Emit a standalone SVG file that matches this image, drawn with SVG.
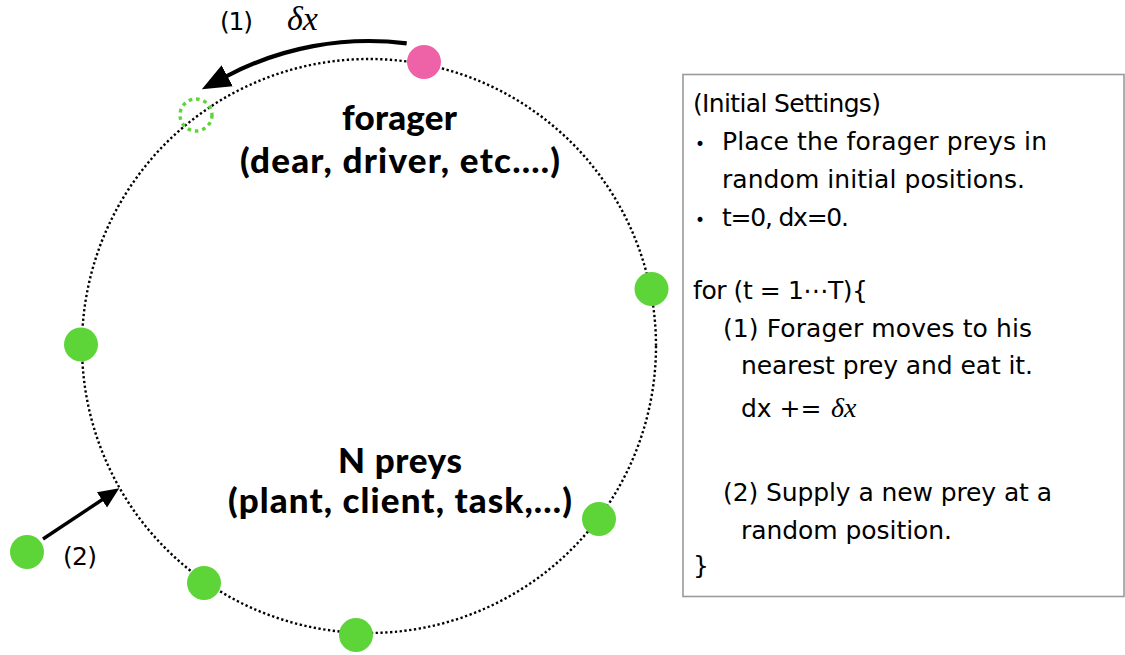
<svg xmlns="http://www.w3.org/2000/svg" width="1125" height="655" viewBox="0 0 1125 655">
<style>
.ring{fill:none;stroke:#000;stroke-width:2.4;stroke-dasharray:2.3 2.5}
.prey{fill:#5dd539}
.forager{fill:#ee63a7}
.ghost{fill:none;stroke:#5dd539;stroke-width:3.4;stroke-dasharray:3.6 3.9}
.lbl{font-family:"DejaVu Sans","Noto Sans",sans-serif;font-size:25px;fill:#000}
.big{font-family:Lato,"Liberation Sans",sans-serif;font-weight:900;font-size:35px;fill:#000}
.panel{font-family:"DejaVu Sans","Noto Sans",sans-serif;font-size:25px;fill:#000}
.bul{font-family:"DejaVu Sans",sans-serif;font-size:17px;fill:#000}
.math{font-family:"Liberation Serif","DejaVu Serif",serif;font-style:italic;fill:#000}
.arrow{fill:none;stroke:#000}
</style>
<defs>
<marker id="headBig" markerUnits="userSpaceOnUse" markerWidth="30" markerHeight="30" viewBox="0 -11 24 22" refX="2" refY="0" orient="auto">
<path d="M0,-9.5 L23,0 L0,9.5 z" fill="#000"/>
</marker>
<marker id="headSmall" markerUnits="userSpaceOnUse" markerWidth="22" markerHeight="22" viewBox="0 -9 18 18" refX="2" refY="0" orient="auto">
<path d="M0,-7.5 L17,0 L0,7.5 z" fill="#000"/>
</marker>
</defs>
<rect width="1125" height="655" fill="#fff"/>
<g id="ring">
<circle class="ring" cx="369" cy="346" r="287"/>
</g>
<g id="connectors">
<path class="arrow" stroke-width="4.2" d="M406.7,43.4 A305,305 0 0 0 225,77" marker-end="url(#headBig)"/>
<path class="arrow" stroke-width="3.4" d="M43,539 L104,498.5" marker-end="url(#headSmall)"/>
</g>
<g id="forager-node">
<circle class="forager" cx="424" cy="62" r="17"/>
</g>
<g id="forager-old-position">
<circle class="ghost" cx="196" cy="115" r="16"/>
</g>
<g id="prey-1"><circle class="prey" cx="651.5" cy="289" r="17"/></g>
<g id="prey-2"><circle class="prey" cx="81" cy="344.5" r="17"/></g>
<g id="prey-3"><circle class="prey" cx="599" cy="519" r="17"/></g>
<g id="prey-4"><circle class="prey" cx="204" cy="583" r="17"/></g>
<g id="prey-5"><circle class="prey" cx="356" cy="635" r="17"/></g>
<g id="prey-new"><circle class="prey" cx="27" cy="552" r="17"/></g>
<g id="labels">
<text class="lbl" x="220" y="30" textLength="33">(1)</text>
<text class="math" x="287" y="30" font-size="34">δx</text>
<text class="lbl" x="63" y="565" textLength="34">(2)</text>
<text class="big" x="342" y="130" textLength="115">forager</text>
<text class="big" x="240" y="173" textLength="320">(dear, driver, etc.…)</text>
<text class="big" x="338" y="473" textLength="124">N preys</text>
<text class="big" x="228" y="513" textLength="344">(plant, client, task,…)</text>
</g>
<g id="panel">
<rect x="683" y="74.5" width="441" height="522" fill="none" stroke="#9a9a9a" stroke-width="1.6"/>
<text class="panel" x="693" y="112" textLength="188">(Initial Settings)</text>
<text class="bul" x="695" y="150">•</text>
<text class="panel" x="722" y="150" textLength="325">Place the forager preys in</text>
<text class="panel" x="722" y="188" textLength="303">random initial positions.</text>
<text class="bul" x="695" y="226">•</text>
<text class="panel" x="722" y="226" textLength="127">t=0, dx=0.</text>
<text class="panel" x="693" y="299" textLength="175">for (t = 1⋯T){</text>
<text class="panel" x="723" y="337" textLength="309">(1) Forager moves to his</text>
<text class="panel" x="741" y="374" textLength="292">nearest prey and eat it.</text>
<text class="panel" x="741" y="417">dx +=</text>
<text class="math" x="831" y="417" font-size="28">δx</text>
<text class="panel" x="723" y="501" textLength="329">(2) Supply a new prey at a</text>
<text class="panel" x="741" y="539" textLength="211">random position.</text>
<text class="panel" x="693" y="574">}</text>
</g>
</svg>
